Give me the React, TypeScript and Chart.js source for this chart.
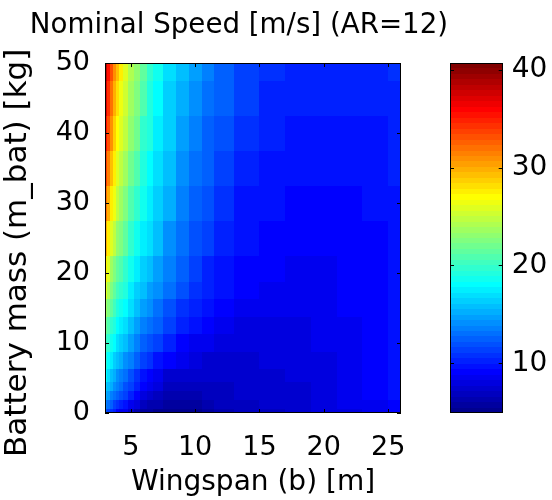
import { useEffect, useRef } from "react";
import { Chart, registerables } from "chart.js";

Chart.register(...registerables);

// Wingspan grid (b, metres) and battery-mass grid (kg) of the speed table
const WINGSPAN = [3, 3.25, 3.5, 3.75, 4, 4.25, 4.5, 5, 5.5, 6, 6.5, 7, 8, 9, 10, 11, 12, 14, 16, 18, 20, 22, 24, 26];
const BATTERY_MASS = [0, 1.25, 2.5, 3.75, 5, 7.5, 10, 12.5, 15, 17.5, 20, 25, 30, 35, 40, 45, 50];

// Nominal speed [m/s]; one row per battery mass, one column per wingspan
const NOMINAL_SPEED: number[][] = [
  [12.0, 11.3, 10.6, 10.0, 9.4, 8.8, 8.3, 7.2, 6.5, 6.0, 5.6, 5.35, 5.05, 5.0, 5.3, 5.8, 6.4, 6.85, 7.1, 7.45, 7.85, 8.28, 8.75, 9.3],
  [13.8, 13.0, 12.3, 11.5, 10.9, 10.3, 9.7, 8.6, 7.8, 7.1, 6.5, 6.1, 5.7, 5.7, 6.0, 6.4, 6.8, 7.05, 7.3, 7.55, 7.95, 8.35, 8.8, 9.4],
  [15.3, 14.5, 13.8, 13.1, 12.4, 11.7, 11.1, 10.0, 9.0, 8.2, 7.5, 7.0, 6.45, 6.45, 6.6, 6.8, 7.0, 7.2, 7.45, 7.65, 8.05, 8.45, 8.85, 9.5],
  [16.6, 15.8, 15.0, 14.2, 13.5, 12.8, 12.1, 11.1, 10.1, 9.1, 8.4, 7.8, 7.0, 6.95, 6.95, 7.05, 7.15, 7.35, 7.55, 7.72, 8.12, 8.48, 8.85, 9.52],
  [17.8, 16.9, 16.0, 15.1, 14.4, 13.7, 13.0, 12.0, 10.9, 9.9, 9.1, 8.5, 7.6, 7.35, 7.2, 7.2, 7.25, 7.45, 7.65, 7.8, 8.2, 8.5, 8.85, 9.55],
  [19.2, 18.3, 17.4, 16.5, 15.8, 15.1, 14.4, 13.4, 12.3, 11.4, 10.6, 9.9, 8.9, 8.4, 8.0, 7.7, 7.65, 7.7, 7.8, 7.95, 8.25, 8.55, 8.95, 9.55],
  [20.5, 19.6, 18.7, 17.8, 17.0, 16.3, 15.6, 14.6, 13.6, 12.7, 11.9, 11.2, 10.1, 9.4, 8.8, 8.3, 8.1, 7.95, 7.95, 8.1, 8.3, 8.65, 9.05, 9.6],
  [22.0, 21.0, 20.0, 19.0, 18.2, 17.5, 16.8, 15.7, 14.7, 13.8, 13.0, 12.3, 11.1, 10.3, 9.5, 8.9, 8.6, 8.25, 8.15, 8.25, 8.45, 8.75, 9.1, 9.6],
  [23.6, 22.4, 21.3, 20.4, 19.4, 18.6, 17.9, 16.7, 15.7, 14.8, 14.0, 13.3, 12.0, 11.0, 10.1, 9.5, 9.05, 8.55, 8.35, 8.45, 8.55, 8.85, 9.2, 9.6],
  [25.6, 24.0, 22.6, 21.5, 20.5, 19.6, 18.9, 17.6, 16.6, 15.7, 14.9, 14.1, 12.8, 11.7, 10.6, 10.0, 9.45, 8.85, 8.6, 8.6, 8.65, 8.92, 9.25, 9.62],
  [27.5, 25.6, 23.8, 22.6, 21.5, 20.6, 19.8, 18.4, 17.4, 16.6, 15.8, 14.8, 13.4, 12.2, 11.1, 10.4, 9.8, 9.1, 8.85, 8.75, 8.75, 9.0, 9.3, 9.65],
  [29.6, 27.6, 25.8, 24.5, 23.3, 22.3, 21.4, 19.9, 18.8, 17.7, 16.8, 15.7, 14.4, 13.1, 11.9, 11.1, 10.4, 9.5, 9.2, 9.05, 9.0, 9.2, 9.38, 9.7],
  [31.8, 29.6, 27.6, 26.2, 24.9, 23.7, 22.7, 21.1, 20.0, 18.5, 17.6, 16.4, 15.1, 13.8, 12.5, 11.7, 10.9, 9.9, 9.5, 9.35, 9.3, 9.38, 9.5, 9.85],
  [33.7, 31.4, 29.3, 27.6, 26.1, 24.8, 23.7, 22.1, 20.9, 19.3, 18.3, 17.0, 15.7, 14.4, 13.1, 12.2, 11.4, 10.3, 9.8, 9.55, 9.45, 9.55, 9.7, 10.0],
  [35.5, 33.1, 30.8, 28.6, 27.2, 25.8, 24.6, 23.0, 21.7, 20.0, 18.9, 17.6, 16.2, 14.9, 13.6, 12.7, 11.9, 10.7, 10.05, 9.85, 9.75, 9.8, 9.95, 10.2],
  [36.8, 34.3, 32.0, 29.9, 28.1, 26.6, 25.4, 23.8, 22.4, 20.6, 19.4, 18.1, 16.6, 15.3, 14.1, 13.2, 12.3, 11.1, 10.45, 10.15, 10.0, 10.05, 10.2, 10.45],
  [38.0, 35.5, 33.2, 30.9, 29.0, 27.3, 26.0, 24.4, 23.0, 21.2, 19.8, 18.5, 17.0, 15.7, 14.5, 13.6, 12.7, 11.4, 10.75, 10.35, 10.2, 10.25, 10.4, 10.65],
];

const X_RANGE = [3, 26];
const Y_RANGE = [0, 50];
const X_TICKS = [5, 10, 15, 20, 25];
const Y_TICKS = [0, 10, 20, 30, 40, 50];
const COLOR_RANGE = [4.94, 40.67];
const COLOR_TICKS = [10, 20, 30, 40];

const TITLE = "Nominal Speed [m/s] (AR=12)";
const X_LABEL = "Wingspan (b) [m]";
// trailing spaces nudge the rotated label's centre below the axis midpoint
const Y_LABEL = "Battery mass (m_bat) [kg]   ";

const FONT_FAMILY = "'DejaVu Sans', sans-serif";
const FONT = { family: FONT_FAMILY, size: 27, weight: "normal" as const };
const TITLE_FONT = { family: FONT_FAMILY, size: 27.7, weight: "normal" as const };
const X_LABEL_FONT = { family: FONT_FAMILY, size: 28, weight: "normal" as const };
const Y_LABEL_FONT = { family: FONT_FAMILY, size: 31, weight: "normal" as const };
const BAR_FONT = { family: FONT_FAMILY, size: 28, weight: "normal" as const };
const LEVELS = 64;

// MATLAB-style 64-entry jet colormap, row i = 1..64
function jetRow(i: number): string {
  let r = 0, g = 0, b = 0;
  if (i <= 8) b = (i + 8) / 16;
  else if (i <= 23) b = 1;
  else if (i <= 39) b = (40 - i) / 16;
  if (i >= 9 && i <= 24) g = (i - 8) / 16;
  else if (i >= 25 && i <= 39) g = 1;
  else if (i >= 40 && i <= 55) g = (56 - i) / 16;
  if (i >= 25 && i <= 40) r = (i - 24) / 16;
  else if (i >= 41 && i <= 55) r = 1;
  else if (i >= 56) r = (72 - i) / 16;
  return `rgb(${Math.round(r * 255)},${Math.round(g * 255)},${Math.round(b * 255)})`;
}

function colorFor(v: number): string {
  const [lo, hi] = COLOR_RANGE;
  let i = Math.floor(((v - lo) / (hi - lo)) * LEVELS) + 1;
  i = Math.max(1, Math.min(LEVELS, i));
  return jetRow(i);
}

function cellEdges(centers: number[], range: number[]): number[] {
  const e = [range[0]];
  for (let k = 0; k < centers.length - 1; k++) e.push((centers[k] + centers[k + 1]) / 2);
  e.push(range[1]);
  return e;
}

const heatmapPlugin = {
  id: "speedField",
  beforeDatasetsDraw(chart: any) {
    const { ctx, chartArea, scales } = chart;
    const xs = scales.x, ys = scales.y;
    const bE = cellEdges(WINGSPAN, X_RANGE);
    const mE = cellEdges(BATTERY_MASS, Y_RANGE);
    ctx.save();
    ctx.beginPath();
    ctx.rect(chartArea.left, chartArea.top, chartArea.right - chartArea.left, chartArea.bottom - chartArea.top);
    ctx.clip();
    for (let r = 0; r < BATTERY_MASS.length; r++) {
      const yTop = Math.round(ys.getPixelForValue(mE[r + 1]));
      const yBot = Math.round(ys.getPixelForValue(mE[r]));
      for (let c = 0; c < WINGSPAN.length; c++) {
        const x0 = Math.round(xs.getPixelForValue(bE[c]));
        const x1 = Math.round(xs.getPixelForValue(bE[c + 1]));
        ctx.fillStyle = colorFor(NOMINAL_SPEED[r][c]);
        ctx.fillRect(x0, yTop, x1 - x0, yBot - yTop);
      }
    }
    ctx.restore();
  },
};

function drawFrame(ctx: any, area: any, xs: any, xTicks: number[], ys: any, yTicks: number[]) {
  const len = 4;
  ctx.save();
  ctx.strokeStyle = "#000";
  ctx.lineWidth = 1;
  ctx.beginPath();
  for (const v of xTicks) {
    const x = Math.round(xs.getPixelForValue(v)) + 0.5;
    ctx.moveTo(x, area.bottom);
    ctx.lineTo(x, area.bottom - len);
    ctx.moveTo(x, area.top);
    ctx.lineTo(x, area.top + len);
  }
  for (const v of yTicks) {
    const y = Math.round(ys.getPixelForValue(v)) + 0.5;
    ctx.moveTo(area.left, y);
    ctx.lineTo(area.left + len, y);
    ctx.moveTo(area.right, y);
    ctx.lineTo(area.right - len, y);
  }
  ctx.stroke();
  ctx.strokeRect(
    Math.round(area.left) + 0.5,
    Math.round(area.top) + 0.5,
    Math.round(area.right - area.left) - 1,
    Math.round(area.bottom - area.top) - 1
  );
  ctx.restore();
}

const framePlugin = {
  id: "axesFrame",
  afterDraw(chart: any) {
    drawFrame(chart.ctx, chart.chartArea, chart.scales.x, X_TICKS, chart.scales.y, Y_TICKS);
  },
};

const colorbarPlugin = {
  id: "colorbar",
  beforeDatasetsDraw(chart: any) {
    const { ctx, chartArea, scales } = chart;
    const ys = scales.y;
    const [lo, hi] = COLOR_RANGE;
    const step = (hi - lo) / LEVELS;
    ctx.save();
    for (let i = 1; i <= LEVELS; i++) {
      const yTop = Math.round(ys.getPixelForValue(lo + i * step));
      const yBot = Math.round(ys.getPixelForValue(lo + (i - 1) * step));
      ctx.fillStyle = jetRow(i);
      ctx.fillRect(chartArea.left, yTop, chartArea.right - chartArea.left, yBot - yTop);
    }
    ctx.restore();
  },
  afterDraw(chart: any) {
    drawFrame(chart.ctx, chart.chartArea, chart.scales.x, [], chart.scales.y, COLOR_TICKS);
  },
};

const fixedTicks = (values: number[]) => (scale: any) => {
  scale.ticks = values.map((value) => ({ value }));
};

export default function App() {
  const mainRef = useRef<HTMLCanvasElement>(null);
  const barRef = useRef<HTMLCanvasElement>(null);

  useEffect(() => {
    Chart.defaults.font.family = FONT_FAMILY;
    Chart.defaults.color = "#000";

    const main = new Chart(mainRef.current as HTMLCanvasElement, {
      type: "scatter",
      data: { datasets: [] },
      options: {
        animation: false,
        responsive: false,
        devicePixelRatio: 1,
        layout: { padding: { left: 0, right: 74, top: 0, bottom: 0 } },
        plugins: {
          legend: { display: false },
          tooltip: { enabled: false },
          title: {
            display: true,
            text: TITLE,
            color: "#000",
            font: TITLE_FONT,
            padding: { top: 9, bottom: 20.8 },
          },
        },
        scales: {
          x: {
            type: "linear",
            position: "bottom",
            min: X_RANGE[0],
            max: X_RANGE[1],
            afterBuildTicks: fixedTicks(X_TICKS),
            afterFit: (s: any) => {
              s.height = 87;
            },
            grid: { display: false, drawTicks: false },
            border: { display: false },
            ticks: { color: "#000", font: FONT, padding: 19, maxRotation: 0, autoSkip: false },
            title: { display: true, text: X_LABEL, color: "#000", font: X_LABEL_FONT, padding: { top: 0, bottom: 0 } },
          },
          y: {
            type: "linear",
            position: "left",
            min: Y_RANGE[0],
            max: Y_RANGE[1],
            afterBuildTicks: fixedTicks(Y_TICKS),
            afterFit: (s: any) => {
              s.width = 105;
            },
            grid: { display: false, drawTicks: false },
            border: { display: false },
            ticks: { color: "#000", font: FONT, padding: 15, autoSkip: false },
            title: { display: true, text: Y_LABEL, color: "#000", font: Y_LABEL_FONT, padding: { top: -1, bottom: 0 } },
          },
          y2: {
            type: "linear",
            position: "right",
            min: 0,
            max: 1,
            afterFit: (s: any) => {
              s.width = 77;
            },
            grid: { display: false, drawTicks: false },
            border: { display: false },
            ticks: { display: false },
          },
        },
      } as any,
      plugins: [heatmapPlugin, framePlugin],
    });

    const bar = new Chart(barRef.current as HTMLCanvasElement, {
      type: "scatter",
      data: { datasets: [] },
      options: {
        animation: false,
        responsive: false,
        devicePixelRatio: 1,
        layout: { padding: { left: 30, right: 0, top: 63, bottom: 87 } },
        plugins: { legend: { display: false }, tooltip: { enabled: false }, title: { display: false } },
        scales: {
          x: { type: "linear", display: false, min: 0, max: 1 },
          y: {
            type: "linear",
            position: "right",
            min: COLOR_RANGE[0],
            max: COLOR_RANGE[1],
            afterBuildTicks: fixedTicks(COLOR_TICKS),
            afterFit: (s: any) => {
              s.width = 49.3;
            },
            grid: { display: false, drawTicks: false },
            border: { display: false },
            ticks: { color: "#000", font: BAR_FONT, padding: 9, autoSkip: false },
          },
        },
      } as any,
      plugins: [colorbarPlugin],
    });

    return () => {
      main.destroy();
      bar.destroy();
    };
  }, []);

  return (
    <div style={{ position: "fixed", left: 0, top: 0, width: 552, height: 500, background: "#fff" }}>
      <canvas
        ref={mainRef}
        width={552}
        height={500}
        style={{ position: "absolute", left: 0, top: 0, width: 552, height: 500 }}
      />
      <canvas
        ref={barRef}
        width={132}
        height={500}
        style={{ position: "absolute", left: 420, top: 0, width: 132, height: 500 }}
      />
    </div>
  );
}
